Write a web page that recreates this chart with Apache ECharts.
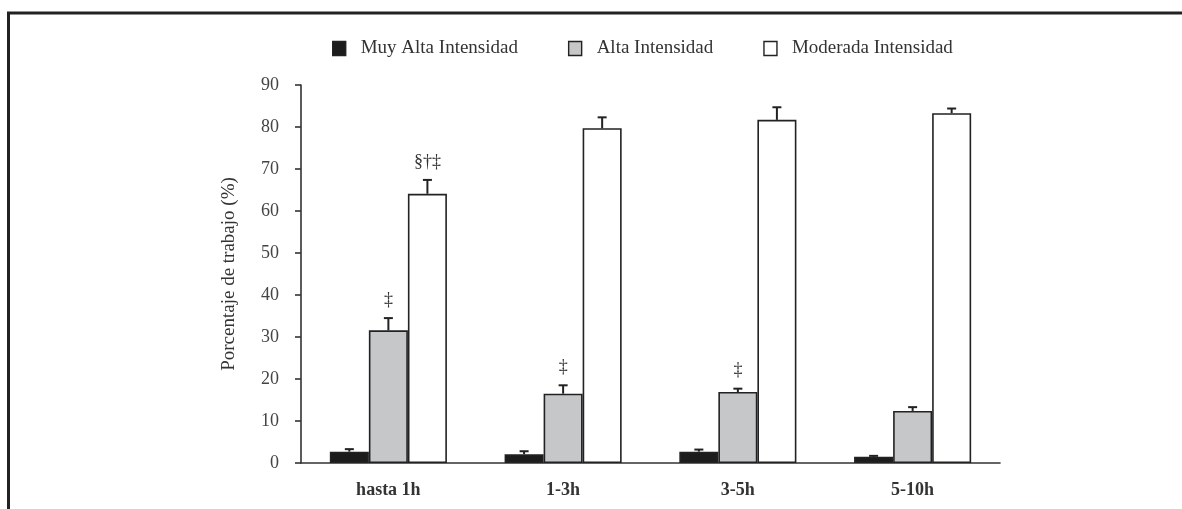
<!DOCTYPE html>
<html>
<head>
<meta charset="utf-8">
<script src="https://cdn.jsdelivr.net/npm/echarts@6/dist/echarts.min.js"></script>
<style>html,body{margin:0;padding:0;background:#fff}#c{width:1182px;height:509px}</style>
</head>
<body>
<div id="c"></div>
<script>
var categories = ['hasta 1h', '1-3h', '3-5h', '5-10h'];
var seriesNames = ['Muy Alta Intensidad', 'Alta Intensidad', 'Moderada Intensidad'];
var muyAlta = [2.7, 2.1, 2.7, 1.5];
var alta = [31.6, 16.5, 16.9, 12.4];
var moderada = [64.1, 79.7, 81.7, 83.3];
var muyAltaErr = [0.6, 0.7, 0.5, 0.2];
var altaErr = [2.9, 2.0, 0.8, 0.9];
var moderadaErr = [3.3, 2.6, 3.0, 1.1];
var altaMarks = ['\u2021', '\u2021', '\u2021', ''];
var moderadaMarks = ['\u00a7\u2020\u2021', '', '', ''];
var yTicks = [0, 10, 20, 30, 40, 50, 60, 70, 80, 90];

var FONT = '"Liberation Serif", "DejaVu Serif", serif';
var values = [muyAlta, alta, moderada];
var errs = [muyAltaErr, altaErr, moderadaErr];
var marks = [['', '', '', ''], altaMarks, moderadaMarks];
var colors = ['#1c1c1c', '#c6c7c9', '#ffffff'];

var errData = [];
for (var s = 0; s < 3; s++) {
  for (var i = 0; i < categories.length; i++) {
    errData.push([i, values[s][i], errs[s][i], s, marks[s][i]]);
  }
}

var chart = echarts.init(document.getElementById('c'));
var barSeries = seriesNames.map(function (n, s) {
  return {
    name: n, type: 'bar', data: values[s],
    barGap: '0%', barCategoryGap: '33%',
    itemStyle: { color: colors[s], borderColor: '#222', borderWidth: 1.6 },
    z: 2
  };
});

chart.setOption({
  animation: false,
  backgroundColor: '#fff',
  graphic: [
    { type: 'line', shape: { x1: 7, y1: 13, x2: 1182, y2: 13 }, style: { stroke: '#222', lineWidth: 3 } },
    { type: 'line', shape: { x1: 8.5, y1: 12, x2: 8.5, y2: 509 }, style: { stroke: '#222', lineWidth: 3 } }
  ],
  legend: {
    data: seriesNames,
    left: 327, top: 34,
    icon: 'rect', itemWidth: 13, itemHeight: 14, itemGap: 50,
    textStyle: { fontFamily: FONT, fontSize: 19, color: '#333', padding: [0, 0, 0, 10] },
    itemStyle: { borderColor: '#222', borderWidth: 1.4 }
  },
  grid: { left: 301, right: 182, top: 85, bottom: 46 },
  xAxis: {
    type: 'category', data: categories,
    axisLine: { lineStyle: { color: '#333', width: 1.6 } },
    axisTick: { length: 8, lineStyle: { color: '#333', width: 1.6 } },
    axisLabel: { fontFamily: FONT, fontSize: 18, fontWeight: 'bold', color: '#333', margin: 18 }
  },
  yAxis: {
    type: 'value', min: 0, max: 90, interval: 10,
    name: 'Porcentaje de trabajo (%)', nameLocation: 'middle', nameGap: 62, nameRotate: 90,
    nameTextStyle: { fontFamily: FONT, fontSize: 19, color: '#333' },
    axisLine: { show: true, lineStyle: { color: '#333', width: 1.6 } },
    axisTick: { show: true, length: 6, lineStyle: { color: '#333', width: 1.6 } },
    axisLabel: { fontFamily: FONT, fontSize: 18, color: '#444', margin: 22,
      formatter: function (v) { return yTicks.indexOf(v) >= 0 ? String(v) : ''; } },
    splitLine: { show: false }
  },
  series: barSeries.concat([{
    type: 'custom', name: 'err', z: 3,
    data: errData,
    encode: { x: 0, y: 1 },
    renderItem: function (params, api) {
      var cat = api.value(0), val = api.value(1), e = api.value(2), s = api.value(3);
      var mark = errData[params.dataIndex][4];
      var band = api.size([1, 0])[0];
      var bw = band * 0.67 / 3;
      var base = api.coord([cat, val]);
      var top = api.coord([cat, val + e]);
      var x = base[0] + (s - 1) * bw;
      var cap = 4.5;
      var children = [
        { type: 'line', shape: { x1: x, y1: base[1], x2: x, y2: top[1] }, style: { stroke: '#222', lineWidth: 2 } },
        { type: 'line', shape: { x1: x - cap, y1: top[1], x2: x + cap, y2: top[1] }, style: { stroke: '#222', lineWidth: 2 } }
      ];
      if (mark) {
        children.push({ type: 'text', style: { text: mark, x: x, y: top[1] - 9, align: 'center', verticalAlign: 'bottom',
          font: '18px ' + FONT, fill: '#333' } });
      }
      return { type: 'group', children: children };
    }
  }])
});
</script>
</body>
</html>
